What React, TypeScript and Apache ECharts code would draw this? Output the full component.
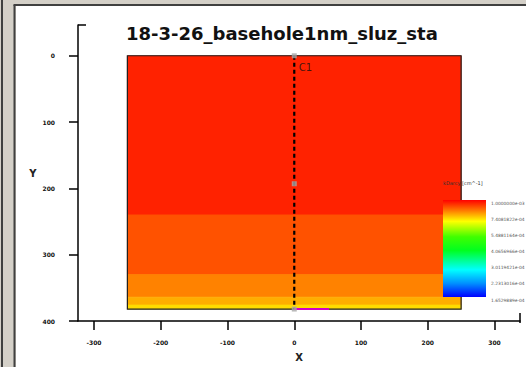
import React, { useEffect, useRef } from "react";
import * as echarts from "echarts";

const TITLE = "18-3-26_basehole1nm_sluz_sta";
const X_TICKS = [-300, -200, -100, 0, 100, 200, 300];
const Y_TICKS = [0, 100, 200, 300, 400];
const MODEL_X = [-250, 250];
const LAYER_TOP = [0, 240, 330, 364, 376];
const LAYER_BOTTOM = [240, 330, 364, 376, 382];
const LAYER_COLORS = ["#ff2200", "#ff5200", "#ff8200", "#ffae00", "#ffdc00"];
const WELL_NAME = "C1";
const WELL_PATH = [[0, 0], [0, 382]];
const WELL_MARKERS = [[0, 0], [0, 193], [0, 382]];
const WELL_SEGMENT = [[0, 382], [52, 382]];
const CBAR_TITLE = "kDarcy [cm^-1]";
const CBAR_LABELS = [
  "1.0000000e-03",
  "7.4081822e-04",
  "5.4881164e-04",
  "4.0656966e-04",
  "3.0119421e-04",
  "2.2313016e-04",
  "1.6529889e-04",
];

export default function App() {
  const ref = useRef<HTMLDivElement>(null);
  useEffect(() => {
    if (!ref.current) return;
    const chart = echarts.init(ref.current, null, { renderer: "svg" });
    const layers = LAYER_TOP.map((t, i) => [MODEL_X[0], MODEL_X[1], t, LAYER_BOTTOM[i]]);
    const outline = [[MODEL_X[0], MODEL_X[1], LAYER_TOP[0], LAYER_BOTTOM[LAYER_BOTTOM.length - 1]]];
    const rectItem = (stroke: string | null) => (params: any, api: any) => {
      const p0 = api.coord([api.value(0), api.value(2)]);
      const p1 = api.coord([api.value(1), api.value(3)]);
      const c = LAYER_COLORS[params.dataIndex];
      return {
        type: "rect",
        shape: { x: p0[0], y: Math.min(p0[1], p1[1]), width: p1[0] - p0[0], height: Math.abs(p1[1] - p0[1]) },
        style: stroke
          ? { fill: "none", stroke, lineWidth: 1.2 }
          : { fill: c, stroke: c, lineWidth: 0.8 },
      };
    };
    const cbX = 443, cbY = 200, cbW = 43, cbH = 97;
    const labelStep = cbH / (CBAR_LABELS.length - 1);
    const graphic: any[] = [
      { type: "rect", z: 200, shape: { x: 0, y: 0, width: 16, height: 367 }, style: { fill: "#d4d0c8" } },
      { type: "rect", z: 200, shape: { x: 0, y: 0, width: 526, height: 5 }, style: { fill: "#d4d0c8" } },
      { type: "line", z: 201, shape: { x1: 2, y1: 0, x2: 2, y2: 367 }, style: { stroke: "#404040", lineWidth: 2 } },
      { type: "line", z: 201, shape: { x1: 14.5, y1: 5, x2: 14.5, y2: 367 }, style: { stroke: "#404040", lineWidth: 2 } },
      { type: "line", z: 201, shape: { x1: 13.5, y1: 5, x2: 526, y2: 5 }, style: { stroke: "#404040", lineWidth: 2 } },
      { type: "line", z: 100, shape: { x1: 78, y1: 25, x2: 86, y2: 25 }, style: { stroke: "#000", lineWidth: 1.5 } },
      { type: "line", z: 100, shape: { x1: 520, y1: 323, x2: 520, y2: 313 }, style: { stroke: "#000", lineWidth: 1.5 } },
      {
        type: "rect",
        z: 100,
        shape: { x: cbX, y: cbY, width: cbW, height: cbH },
        style: {
          fill: new echarts.graphic.LinearGradient(0, 0, 0, 1, [
            { offset: 0, color: "#ff0000" },
            { offset: 0.1, color: "#ff7000" },
            { offset: 0.22, color: "#ffff00" },
            { offset: 0.38, color: "#40ff00" },
            { offset: 0.52, color: "#00ff20" },
            { offset: 0.72, color: "#00ffff" },
            { offset: 0.86, color: "#0090ff" },
            { offset: 1, color: "#0000ff" },
          ]),
        },
      },
      {
        type: "text",
        z: 100,
        x: cbX,
        y: 183,
        style: { text: CBAR_TITLE, fontSize: 5, fill: "#333", fontFamily: "DejaVu Sans", verticalAlign: "middle" },
      },
      ...CBAR_LABELS.map((t, i) => ({
        type: "text",
        z: 100,
        x: 491,
        y: cbY + 3 + i * labelStep,
        style: { text: t, fontSize: 4.4, fill: "#555", fontFamily: "DejaVu Sans", verticalAlign: "middle" },
      })),
    ];
    chart.setOption({
      animation: false,
      backgroundColor: "#fff",
      title: {
        text: TITLE,
        left: 121,
        top: 19,
        textStyle: { fontSize: 18, fontWeight: "bold", fontFamily: "DejaVu Sans", color: "#111" },
      },
      grid: { left: 78, top: 25, width: 442, height: 298 },
      xAxis: {
        type: "value",
        min: -324,
        max: 338.2,
        name: "X",
        nameLocation: "middle",
        nameGap: 31,
        nameTextStyle: { fontSize: 10, fontWeight: "bold", color: "#222", fontFamily: "DejaVu Sans" },
        axisLine: { onZero: false, lineStyle: { color: "#000", width: 1.5 } },
        axisTick: { length: 9, customValues: X_TICKS, lineStyle: { color: "#000", width: 1.5 } },
        axisLabel: { customValues: X_TICKS, fontSize: 6, fontWeight: "bold", color: "#111", margin: 18, fontFamily: "DejaVu Sans" },
        splitLine: { show: false },
      },
      yAxis: {
        type: "value",
        inverse: true,
        min: -46.4,
        max: 400,
        name: "Y",
        nameLocation: "middle",
        nameGap: 38,
        nameRotate: 0,
        nameTextStyle: { fontSize: 10, fontWeight: "bold", color: "#222", fontFamily: "DejaVu Sans" },
        axisLine: { onZero: false, lineStyle: { color: "#000", width: 1.5 } },
        axisTick: { length: 9, customValues: Y_TICKS, lineStyle: { color: "#000", width: 1.5 } },
        axisLabel: { customValues: Y_TICKS, fontSize: 6, fontWeight: "bold", color: "#111", margin: 23, fontFamily: "DejaVu Sans" },
        splitLine: { show: false },
      },
      graphic,
      series: [
        {
          type: "custom",
          clip: false,
          dimensions: ["x0", "x1", "y0", "y1"],
          encode: { x: [0, 1], y: [2, 3] },
          data: layers,
          renderItem: rectItem(null),
          z: 1,
        },
        {
          type: "custom",
          clip: false,
          dimensions: ["x0", "x1", "y0", "y1"],
          encode: { x: [0, 1], y: [2, 3] },
          data: outline,
          renderItem: rectItem("#222"),
          z: 2,
        },
        {
          type: "line",
          data: WELL_PATH,
          symbol: "none",
          lineStyle: { color: "#000", width: 2.2, type: [4, 3] },
          z: 3,
        },
        {
          type: "line",
          data: WELL_SEGMENT,
          symbol: "none",
          lineStyle: { color: "#d000c8", width: 2 },
          z: 3,
        },
        {
          type: "scatter",
          data: WELL_MARKERS,
          symbol: "rect",
          symbolSize: 5,
          itemStyle: { color: "#a8a8a8" },
          label: {
            show: true,
            formatter: (p: any) => (p.dataIndex === 0 ? WELL_NAME : ""),
            position: "right",
            offset: [-3, 12],
            fontSize: 10,
            color: "#111",
            fontFamily: "DejaVu Sans",
          },
          z: 4,
        },
      ],
    });
    return () => chart.dispose();
  }, []);
  return <div ref={ref} style={{ position: "fixed", left: 0, top: 0, width: 526, height: 367 }} />;
}
